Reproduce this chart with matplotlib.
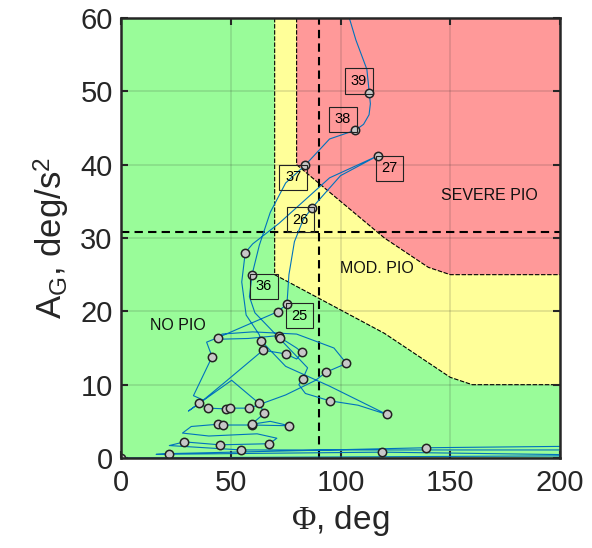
import numpy as np
import matplotlib
matplotlib.use("Agg")
import matplotlib.pyplot as plt

plt.rcParams['font.family'] = ['Liberation Sans', 'DejaVu Sans']
plt.rcParams['mathtext.fontset'] = 'custom'
plt.rcParams['mathtext.rm'] = 'Liberation Serif'
plt.rcParams['mathtext.it'] = 'Liberation Serif:italic'
plt.rcParams['mathtext.sf'] = 'Liberation Sans'

# --- PIO region boundaries (phi, deg ; A_G, deg/s^2) ---
mod_phi = [70, 70, 120, 150, 160, 200, 200]
mod_ag = [60, 25, 17, 11, 10, 10, 60]
sev_phi = [80, 80, 120, 140, 150, 200, 200]
sev_ag = [60, 40, 30, 26, 25, 25, 60]

phi_crit = 90
ag_crit = 30.8

# --- pilot trajectory ---
phi_path = [0, 205, 205, 119.1, 16, 21.7, 138.8, 205, 205, 54.7, 22, 28.8, 45.1, 67.6,
            71, 62, 40, 28, 32, 44.0, 46.6, 59.5, 76.7, 68, 59.5, 65.3, 62.9, 50.4, 30.7,
            35.5, 39.5, 47.8, 49.7, 58.5, 75, 88.7, 93.4, 102.7, 97, 80, 60, 46, 45, 58,
            72.0, 72.6, 80, 82.5, 80, 75.0, 64.7, 48, 37.5, 33, 41.5, 39, 44.0, 71.4,
            75.6, 76.5, 79, 83, 87.0, 100, 116.9, 95, 72, 60, 56.6, 55, 57, 63, 63.8, 75, 95, 121.0,
            108, 95.1, 84, 81, 82.8, 85, 70, 61, 58.5, 59.7, 63, 68, 75, 83.8, 95, 106.8, 110.5,
            113, 113.6, 113.1, 112, 107, 102]
ag_path = [0, 0.3, 0.45, 0.8, 0.5, 0.6, 1.4, 1.6, 1.1, 1.1, 1.7, 2.2, 1.8, 1.95,
           2.7, 3.3, 3.0, 3.4, 4.3, 4.6, 4.5, 4.5, 4.4, 5.0, 4.6, 6.1, 7.45, 10.6, 6.4,
           7.45, 6.8, 6.7, 6.8, 6.8, 8.6, 10.6, 11.7, 12.9, 15.0, 16.9, 17.2, 16.9, 16.2, 16.3,
           16.7, 16.4, 15.0, 14.4, 13.5, 14.2, 14.7, 10.5, 7.9, 8.5, 13.8, 15.8, 16.4, 19.95,
           21.0, 25, 29.5, 32.5, 34.1, 38.5, 41.2, 38.2, 32, 29.2, 28.0, 24, 19.5, 16.8, 16.0, 12.5, 9.8, 5.95,
           7.2, 7.8, 8.8, 10, 10.8, 12.3, 17.0, 19.8, 22, 25.0, 29, 33.5, 37.5, 39.9, 43.5, 44.7, 45.5,
           46.8, 48.3, 49.8, 53, 57, 62]

# sampled points (1 s marks)
phi_mk = [0, 119.1, 21.7, 138.8, 54.7, 28.8, 45.1, 67.6, 44.0, 46.6, 59.5, 76.7, 59.5, 65.3,
          62.9, 35.5, 39.5, 47.8, 49.7, 58.5, 93.4, 102.7, 72.0, 72.6, 82.5, 75.0, 64.7, 41.5,
          44.0, 71.4, 75.6, 87.0, 116.9, 56.6, 63.8, 121.0, 95.1, 82.8, 59.7, 83.8, 106.8, 113.1]
ag_mk = [0, 0.8, 0.6, 1.4, 1.1, 2.2, 1.8, 1.95, 4.6, 4.5, 4.5, 4.4, 4.6, 6.1,
         7.45, 7.45, 6.8, 6.7, 6.8, 6.8, 11.7, 12.9, 16.7, 16.4, 14.4, 14.2, 14.7, 13.8,
         16.4, 19.95, 21.0, 34.1, 41.2, 28.0, 16.0, 5.95, 7.8, 10.8, 25.0, 39.9, 44.7, 49.8]

lab_text = ['25', '26', '27', '36', '37', '38', '39']
lab_phi = [75.6, 87.0, 116.9, 59.7, 83.8, 106.8, 113.1]
lab_ag = [21.0, 34.1, 41.2, 25.0, 39.9, 44.7, 49.8]
lab_off = [(9, -8.5), (-8.5, -8.5), (8.5, -9), (8.5, -8.5), (-8.5, -8.5), (-9, 8), (-7.5, 8.5)]

fig = plt.figure(figsize=(5.92, 5.48), dpi=100)
ax = fig.add_axes([0.2044, 0.1642, 0.7416, 0.803])

green, yellow, red = '#99fc99', '#ffff99', '#ff9999'
ax.fill([0, 200, 200, 0], [0, 0, 60, 60], color=green, zorder=0.5, lw=0)
ax.fill(mod_phi, mod_ag, color=yellow, zorder=0.6, lw=0)
ax.fill(sev_phi, sev_ag, color=red, zorder=0.7, lw=0)
ax.plot(mod_phi[:-1], mod_ag[:-1], color='k', lw=0.8, ls=(0, (4, 1.5)), zorder=0.8)
ax.plot(sev_phi[:-1], sev_ag[:-1], color='k', lw=0.8, ls=(0, (4, 1.5)), zorder=0.8)

ax.axvline(phi_crit, color='k', lw=1.5, ls=(0, (4, 2.5)), zorder=2)
ax.axhline(ag_crit, color='k', lw=1.5, ls=(0, (4, 2.5)), zorder=2)

ax.plot(phi_path, ag_path, color='#0072BD', lw=0.8, zorder=3)
ax.plot(phi_mk, ag_mk, ls='none', marker='o', ms=6, mfc='#c8c8c8', mec='#222222', mew=1.1, zorder=4)

for t, x, y, off in zip(lab_text, lab_phi, lab_ag, lab_off):
    ax.annotate(t, (x, y), xytext=off, textcoords='offset points', ha='center', va='center',
                fontsize=10.5, zorder=5,
                bbox=dict(boxstyle='square,pad=0.38', fc='none', ec='#222222', lw=0.8))

ax.text(167.8, 35.8, 'SEVERE PIO', fontsize=11.5, ha='center', va='center', color='#111111')
ax.text(116.5, 25.8, 'MOD. PIO', fontsize=11.5, ha='center', va='center', color='#111111')
ax.text(25.8, 18.1, 'NO PIO', fontsize=11.5, ha='center', va='center', color='#111111')

ax.set_xlim(0, 200)
ax.set_ylim(0, 60)
ax.set_xticks([0, 50, 100, 150, 200])
ax.set_yticks(np.arange(0, 61, 10))
ax.set_axisbelow('line')
ax.grid(True, color='#262626', alpha=0.15, lw=1.2)
ax.tick_params(direction='in', top=True, right=True, length=5, width=1.5,
               labelsize=21, colors='#262626')
ax.tick_params(axis='x', pad=8)
ax.tick_params(axis='y', pad=6)
for s in ax.spines.values():
    s.set_linewidth(1.8)
    s.set_color('#262626')
    s.set_zorder(6)

ax.set_xlabel(r'$\mathrm{\Phi}$, deg', fontsize=24, color='#262626', labelpad=4)
ax.set_ylabel(r'A$_{\mathsf{G}}$, deg/s$^{\mathsf{2}}$', fontsize=25, color='#262626', labelpad=6)

fig.savefig('out.png', dpi=100)
